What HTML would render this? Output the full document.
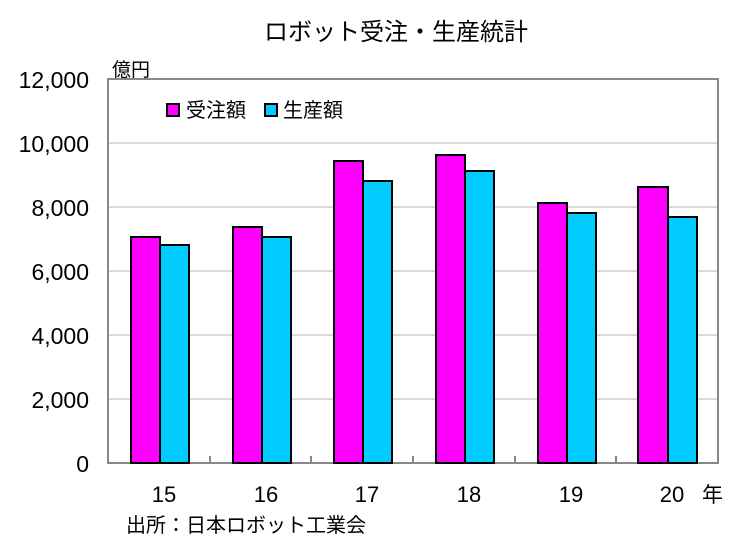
<!DOCTYPE html>
<html><head><meta charset="utf-8"><style>
body{margin:0;background:#fff;}
svg{display:block;font-family:"Liberation Sans","Noto Sans CJK JP",sans-serif;}
</style></head><body>
<svg width="750" height="554" viewBox="0 0 750 554">
<rect width="750" height="554" fill="#fff"/>
<text x="396" y="40" font-size="24" text-anchor="middle" fill="#000">ロボット受注・生産統計</text>
<text x="112" y="76" font-size="19" fill="#000">億円</text>
<g stroke="#d9d9d9" stroke-width="2">
<line x1="108" x2="718" y1="143" y2="143"/>
<line x1="108" x2="718" y1="207" y2="207"/>
<line x1="108" x2="718" y1="271" y2="271"/>
<line x1="108" x2="718" y1="335" y2="335"/>
<line x1="108" x2="718" y1="399" y2="399"/>
</g>
<rect x="108" y="79" width="610" height="384" fill="none" stroke="#888" stroke-width="2"/>
<g stroke="#888" stroke-width="2">
<line x1="210" x2="210" y1="456" y2="463"/>
<line x1="311" x2="311" y1="456" y2="463"/>
<line x1="413" x2="413" y1="456" y2="463"/>
<line x1="515" x2="515" y1="456" y2="463"/>
<line x1="616" x2="616" y1="456" y2="463"/>
</g>
<g font-size="23" text-anchor="end" fill="#000">
<text x="89" y="88">12,000</text>
<text x="89" y="152">10,000</text>
<text x="89" y="216">8,000</text>
<text x="89" y="280">6,000</text>
<text x="89" y="344">4,000</text>
<text x="89" y="408">2,000</text>
<text x="89" y="472">0</text>
</g>
<g stroke="#000" stroke-width="2">
<rect x="131" y="237" width="29" height="226" fill="#ff00ff"/>
<rect x="160" y="245" width="29" height="218" fill="#00ccff"/>
<rect x="233" y="227" width="29" height="236" fill="#ff00ff"/>
<rect x="262" y="237" width="29" height="226" fill="#00ccff"/>
<rect x="334" y="161" width="29" height="302" fill="#ff00ff"/>
<rect x="363" y="181" width="29" height="282" fill="#00ccff"/>
<rect x="436" y="155" width="29" height="308" fill="#ff00ff"/>
<rect x="465" y="171" width="29" height="292" fill="#00ccff"/>
<rect x="538" y="203" width="29" height="260" fill="#ff00ff"/>
<rect x="567" y="213" width="29" height="250" fill="#00ccff"/>
<rect x="638" y="187" width="30" height="276" fill="#ff00ff"/>
<rect x="668" y="217" width="29" height="246" fill="#00ccff"/>
</g>
<rect x="167" y="104" width="12" height="12" fill="#ff00ff" stroke="#000" stroke-width="2"/>
<text x="186" y="117" font-size="20" fill="#000">受注額</text>
<rect x="265" y="104" width="12" height="12" fill="#00ccff" stroke="#000" stroke-width="2"/>
<text x="283" y="117" font-size="20" fill="#000">生産額</text>
<g font-size="22" text-anchor="middle" fill="#000">
<text x="164" y="502">15</text>
<text x="266" y="502">16</text>
<text x="367" y="502">17</text>
<text x="469" y="502">18</text>
<text x="571" y="502">19</text>
<text x="672" y="502">20</text>
</g>
<text x="702" y="502" font-size="21" fill="#000">年</text>
<text x="126" y="532" font-size="20" fill="#000">出所：日本ロボット工業会</text>
</svg>
</body></html>
